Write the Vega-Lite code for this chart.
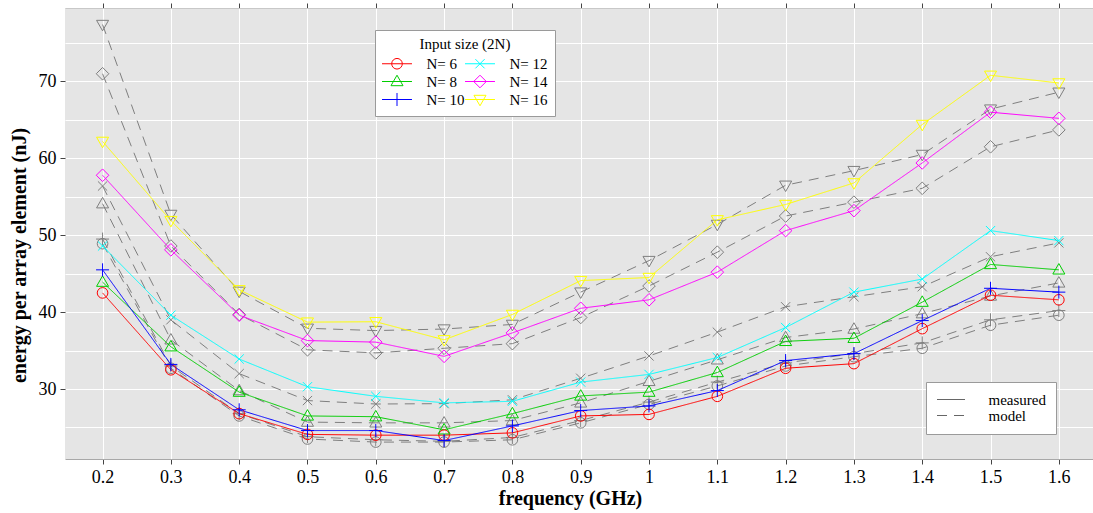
{
  "$schema": "https://vega.github.io/schema/vega-lite/v6.json",
  "width": 1028,
  "height": 451,
  "autosize": {"type": "none"},
  "padding": {"left": 65, "top": 8, "right": 0, "bottom": 54},
  "background": "white",
  "config": {
    "view": {"fill": "#E5E5E5", "stroke": null},
    "font": "Liberation Serif",
    "axis": {"labelFont": "Liberation Serif", "titleFont": "Liberation Serif", "labelColor": "#000", "titleColor": "#000"},
    "legend": {"labelFont": "Liberation Serif", "titleFont": "Liberation Serif", "labelColor": "#000", "titleColor": "#000"}
  },
  "data": {"values": [
    {"f":0.2,"N":"N= 6","t":"measured","e":42.5},{"f":0.3,"N":"N= 6","t":"measured","e":32.5},{"f":0.4,"N":"N= 6","t":"measured","e":26.8},{"f":0.5,"N":"N= 6","t":"measured","e":24.1},{"f":0.6,"N":"N= 6","t":"measured","e":24.0},{"f":0.7,"N":"N= 6","t":"measured","e":24.0},{"f":0.8,"N":"N= 6","t":"measured","e":24.3},{"f":0.9,"N":"N= 6","t":"measured","e":26.5},{"f":1.0,"N":"N= 6","t":"measured","e":26.7},{"f":1.1,"N":"N= 6","t":"measured","e":29.05},{"f":1.2,"N":"N= 6","t":"measured","e":32.7},{"f":1.3,"N":"N= 6","t":"measured","e":33.3},{"f":1.4,"N":"N= 6","t":"measured","e":37.85},{"f":1.5,"N":"N= 6","t":"measured","e":42.2},{"f":1.6,"N":"N= 6","t":"measured","e":41.6},
    {"f":0.2,"N":"N= 8","t":"measured","e":43.9},{"f":0.3,"N":"N= 8","t":"measured","e":35.5},{"f":0.4,"N":"N= 8","t":"measured","e":29.6},{"f":0.5,"N":"N= 8","t":"measured","e":26.5},{"f":0.6,"N":"N= 8","t":"measured","e":26.4},{"f":0.7,"N":"N= 8","t":"measured","e":24.7},{"f":0.8,"N":"N= 8","t":"measured","e":26.8},{"f":0.9,"N":"N= 8","t":"measured","e":29.1},{"f":1.0,"N":"N= 8","t":"measured","e":29.6},{"f":1.1,"N":"N= 8","t":"measured","e":32.15},{"f":1.2,"N":"N= 8","t":"measured","e":36.2},{"f":1.3,"N":"N= 8","t":"measured","e":36.6},{"f":1.4,"N":"N= 8","t":"measured","e":41.3},{"f":1.5,"N":"N= 8","t":"measured","e":46.2},{"f":1.6,"N":"N= 8","t":"measured","e":45.5},
    {"f":0.2,"N":"N= 10","t":"measured","e":45.5},{"f":0.3,"N":"N= 10","t":"measured","e":33.2},{"f":0.4,"N":"N= 10","t":"measured","e":27.3},{"f":0.5,"N":"N= 10","t":"measured","e":24.6},{"f":0.6,"N":"N= 10","t":"measured","e":24.6},{"f":0.7,"N":"N= 10","t":"measured","e":23.3},{"f":0.8,"N":"N= 10","t":"measured","e":25.2},{"f":0.9,"N":"N= 10","t":"measured","e":27.2},{"f":1.0,"N":"N= 10","t":"measured","e":27.8},{"f":1.1,"N":"N= 10","t":"measured","e":29.8},{"f":1.2,"N":"N= 10","t":"measured","e":33.7},{"f":1.3,"N":"N= 10","t":"measured","e":34.6},{"f":1.4,"N":"N= 10","t":"measured","e":38.9},{"f":1.5,"N":"N= 10","t":"measured","e":43.1},{"f":1.6,"N":"N= 10","t":"measured","e":42.6},
    {"f":0.2,"N":"N= 12","t":"measured","e":48.6},{"f":0.3,"N":"N= 12","t":"measured","e":39.6},{"f":0.4,"N":"N= 12","t":"measured","e":33.9},{"f":0.5,"N":"N= 12","t":"measured","e":30.3},{"f":0.6,"N":"N= 12","t":"measured","e":29.05},{"f":0.7,"N":"N= 12","t":"measured","e":28.2},{"f":0.8,"N":"N= 12","t":"measured","e":28.4},{"f":0.9,"N":"N= 12","t":"measured","e":30.9},{"f":1.0,"N":"N= 12","t":"measured","e":31.9},{"f":1.1,"N":"N= 12","t":"measured","e":34.1},{"f":1.2,"N":"N= 12","t":"measured","e":38.0},{"f":1.3,"N":"N= 12","t":"measured","e":42.6},{"f":1.4,"N":"N= 12","t":"measured","e":44.3},{"f":1.5,"N":"N= 12","t":"measured","e":50.6},{"f":1.6,"N":"N= 12","t":"measured","e":49.3},
    {"f":0.2,"N":"N= 14","t":"measured","e":57.8},{"f":0.3,"N":"N= 14","t":"measured","e":48.1},{"f":0.4,"N":"N= 14","t":"measured","e":39.6},{"f":0.5,"N":"N= 14","t":"measured","e":36.3},{"f":0.6,"N":"N= 14","t":"measured","e":36.1},{"f":0.7,"N":"N= 14","t":"measured","e":34.25},{"f":0.8,"N":"N= 14","t":"measured","e":37.3},{"f":0.9,"N":"N= 14","t":"measured","e":40.5},{"f":1.0,"N":"N= 14","t":"measured","e":41.6},{"f":1.1,"N":"N= 14","t":"measured","e":45.2},{"f":1.2,"N":"N= 14","t":"measured","e":50.6},{"f":1.3,"N":"N= 14","t":"measured","e":53.2},{"f":1.4,"N":"N= 14","t":"measured","e":59.4},{"f":1.5,"N":"N= 14","t":"measured","e":66.0},{"f":1.6,"N":"N= 14","t":"measured","e":65.2},
    {"f":0.2,"N":"N= 16","t":"measured","e":62.2},{"f":0.3,"N":"N= 16","t":"measured","e":51.9},{"f":0.4,"N":"N= 16","t":"measured","e":42.9},{"f":0.5,"N":"N= 16","t":"measured","e":38.7},{"f":0.6,"N":"N= 16","t":"measured","e":38.75},{"f":0.7,"N":"N= 16","t":"measured","e":36.4},{"f":0.8,"N":"N= 16","t":"measured","e":39.7},{"f":0.9,"N":"N= 16","t":"measured","e":44.1},{"f":1.0,"N":"N= 16","t":"measured","e":44.5},{"f":1.1,"N":"N= 16","t":"measured","e":52.0},{"f":1.2,"N":"N= 16","t":"measured","e":54.0},{"f":1.3,"N":"N= 16","t":"measured","e":56.8},{"f":1.4,"N":"N= 16","t":"measured","e":64.4},{"f":1.5,"N":"N= 16","t":"measured","e":70.8},{"f":1.6,"N":"N= 16","t":"measured","e":69.8},
    {"f":0.2,"N":"N= 6","t":"model","e":48.9},{"f":0.3,"N":"N= 6","t":"model","e":32.7},{"f":0.4,"N":"N= 6","t":"model","e":26.5},{"f":0.5,"N":"N= 6","t":"model","e":23.5},{"f":0.6,"N":"N= 6","t":"model","e":23.1},{"f":0.7,"N":"N= 6","t":"model","e":23.1},{"f":0.8,"N":"N= 6","t":"model","e":23.4},{"f":0.9,"N":"N= 6","t":"model","e":25.6},{"f":1.0,"N":"N= 6","t":"model","e":28.0},{"f":1.1,"N":"N= 6","t":"model","e":30.4},{"f":1.2,"N":"N= 6","t":"model","e":33.0},{"f":1.3,"N":"N= 6","t":"model","e":34.2},{"f":1.4,"N":"N= 6","t":"model","e":35.3},{"f":1.5,"N":"N= 6","t":"model","e":38.3},{"f":1.6,"N":"N= 6","t":"model","e":39.6},
    {"f":0.2,"N":"N= 8","t":"model","e":54.1},{"f":0.3,"N":"N= 8","t":"model","e":36.4},{"f":0.4,"N":"N= 8","t":"model","e":29.8},{"f":0.5,"N":"N= 8","t":"model","e":25.7},{"f":0.6,"N":"N= 8","t":"model","e":25.6},{"f":0.7,"N":"N= 8","t":"model","e":25.6},{"f":0.8,"N":"N= 8","t":"model","e":25.9},{"f":0.9,"N":"N= 8","t":"model","e":28.2},{"f":1.0,"N":"N= 8","t":"model","e":31.0},{"f":1.1,"N":"N= 8","t":"model","e":33.8},{"f":1.2,"N":"N= 8","t":"model","e":36.7},{"f":1.3,"N":"N= 8","t":"model","e":37.8},{"f":1.4,"N":"N= 8","t":"model","e":39.8},{"f":1.5,"N":"N= 8","t":"model","e":42.1},{"f":1.6,"N":"N= 8","t":"model","e":43.8},
    {"f":0.2,"N":"N= 10","t":"model","e":49.5},{"f":0.3,"N":"N= 10","t":"model","e":33.0},{"f":0.4,"N":"N= 10","t":"model","e":26.8},{"f":0.5,"N":"N= 10","t":"model","e":23.8},{"f":0.6,"N":"N= 10","t":"model","e":23.4},{"f":0.7,"N":"N= 10","t":"model","e":23.2},{"f":0.8,"N":"N= 10","t":"model","e":23.7},{"f":0.9,"N":"N= 10","t":"model","e":25.9},{"f":1.0,"N":"N= 10","t":"model","e":28.3},{"f":1.1,"N":"N= 10","t":"model","e":30.9},{"f":1.2,"N":"N= 10","t":"model","e":33.4},{"f":1.3,"N":"N= 10","t":"model","e":34.6},{"f":1.4,"N":"N= 10","t":"model","e":36.0},{"f":1.5,"N":"N= 10","t":"model","e":39.0},{"f":1.6,"N":"N= 10","t":"model","e":40.2},
    {"f":0.2,"N":"N= 12","t":"model","e":56.4},{"f":0.3,"N":"N= 12","t":"model","e":39.0},{"f":0.4,"N":"N= 12","t":"model","e":32.0},{"f":0.5,"N":"N= 12","t":"model","e":28.5},{"f":0.6,"N":"N= 12","t":"model","e":28.05},{"f":0.7,"N":"N= 12","t":"model","e":28.1},{"f":0.8,"N":"N= 12","t":"model","e":28.6},{"f":0.9,"N":"N= 12","t":"model","e":31.4},{"f":1.0,"N":"N= 12","t":"model","e":34.3},{"f":1.1,"N":"N= 12","t":"model","e":37.4},{"f":1.2,"N":"N= 12","t":"model","e":40.7},{"f":1.3,"N":"N= 12","t":"model","e":42.0},{"f":1.4,"N":"N= 12","t":"model","e":43.3},{"f":1.5,"N":"N= 12","t":"model","e":47.2},{"f":1.6,"N":"N= 12","t":"model","e":49.0},
    {"f":0.2,"N":"N= 14","t":"model","e":71.0},{"f":0.3,"N":"N= 14","t":"model","e":48.6},{"f":0.4,"N":"N= 14","t":"model","e":39.7},{"f":0.5,"N":"N= 14","t":"model","e":35.1},{"f":0.6,"N":"N= 14","t":"model","e":34.7},{"f":0.7,"N":"N= 14","t":"model","e":35.3},{"f":0.8,"N":"N= 14","t":"model","e":35.9},{"f":0.9,"N":"N= 14","t":"model","e":39.3},{"f":1.0,"N":"N= 14","t":"model","e":43.4},{"f":1.1,"N":"N= 14","t":"model","e":47.8},{"f":1.2,"N":"N= 14","t":"model","e":52.5},{"f":1.3,"N":"N= 14","t":"model","e":54.3},{"f":1.4,"N":"N= 14","t":"model","e":56.1},{"f":1.5,"N":"N= 14","t":"model","e":61.5},{"f":1.6,"N":"N= 14","t":"model","e":63.7},
    {"f":0.2,"N":"N= 16","t":"model","e":77.4},{"f":0.3,"N":"N= 16","t":"model","e":52.7},{"f":0.4,"N":"N= 16","t":"model","e":42.7},{"f":0.5,"N":"N= 16","t":"model","e":37.9},{"f":0.6,"N":"N= 16","t":"model","e":37.6},{"f":0.7,"N":"N= 16","t":"model","e":37.8},{"f":0.8,"N":"N= 16","t":"model","e":38.4},{"f":0.9,"N":"N= 16","t":"model","e":42.6},{"f":1.0,"N":"N= 16","t":"model","e":46.7},{"f":1.1,"N":"N= 16","t":"model","e":51.4},{"f":1.2,"N":"N= 16","t":"model","e":56.5},{"f":1.3,"N":"N= 16","t":"model","e":58.4},{"f":1.4,"N":"N= 16","t":"model","e":60.5},{"f":1.5,"N":"N= 16","t":"model","e":66.4},{"f":1.6,"N":"N= 16","t":"model","e":68.6}
  ]},
  "encoding": {
    "y": {
      "field": "e", "type": "quantitative",
      "scale": {"domain": [20.9, 79.55], "nice": false, "zero": false},
      "axis": {
        "title": "energy per array element (nJ)",
        "titleFontSize": 20, "titleFontWeight": "bold", "titlePadding": 9, "titleY": 247,
        "values": [25, 30, 35, 40, 45, 50, 55, 60, 65, 70, 75],
        "labelExpr": "datum.value % 10 === 0 ? datum.label : ''",
        "labelFontSize": 18, "labelPadding": 4,
        "grid": true, "gridColor": "#FFFFFF", "gridWidth": 1, "gridOpacity": 1,
        "domain": false,
        "ticks": true, "tickSize": 5, "tickColor": "#444",
        "tickOpacity": {"condition": {"test": "datum.value % 10 === 0", "value": 1}, "value": 0}
      }
    }
  },
  "layer": [
    {
      "transform": [{"filter": "datum.t === 'model'"}],
      "mark": {"type": "line", "stroke": "#7F7F7F", "strokeWidth": 1},
      "encoding": {
        "x": {
          "field": "f", "type": "quantitative",
          "scale": {"domain": [0.145, 1.65], "nice": false, "zero": false},
          "axis": {
            "orient": "bottom",
            "title": "frequency (GHz)", "titleFontSize": 20, "titleFontWeight": "bold", "titlePadding": 2, "titleX": 505,
            "values": [0.2, 0.3, 0.4, 0.5, 0.6, 0.7, 0.8, 0.9, 1.0, 1.1, 1.2, 1.3, 1.4, 1.5, 1.6],
            "format": ".2~f",
            "labelFontSize": 18, "labelPadding": 4,
            "grid": true, "gridColor": "#FFFFFF", "gridWidth": 1, "gridOpacity": 1,
            "domain": true, "domainColor": "#A8A8A8", "domainWidth": 1,
            "ticks": true, "tickSize": 5, "tickColor": "#444"
          }
        },
        "detail": {"field": "N"},
        "strokeDash": {
          "field": "t", "type": "nominal",
          "scale": {"domain": ["measured", "model"], "range": [[1, 0], [10, 7]]},
          "legend": {
            "title": null, "orient": "none", "legendX": 861, "legendY": 374,
            "fillColor": "#FFFFFF", "strokeColor": "#9A9A9A", "padding": 10,
            "symbolType": "M-2,0H2", "symbolSize": 196, "symbolOffset": 7.5,
            "symbolStrokeColor": "#666666", "symbolStrokeWidth": 1,
            "labelFontSize": 15, "labelOffset": 30, "rowPadding": -1,
            "encode": {"symbols": {"update": {"stroke": {"value": "#666666"}, "strokeWidth": {"value": 1}, "fill": {"value": "transparent"}}}}
          }
        }
      }
    },
    {
      "transform": [{"filter": "datum.t === 'model'"}],
      "mark": {"type": "point", "filled": false, "stroke": "#7F7F7F", "strokeWidth": 1, "size": 196, "opacity": 1},
      "encoding": {
        "x": {
          "field": "f", "type": "quantitative",
          "scale": {"domain": [0.145, 1.65], "nice": false, "zero": false},
          "axis": {
            "orient": "top", "title": null, "labels": false, "grid": false,
            "values": [0.2, 0.3, 0.4, 0.5, 0.6, 0.7, 0.8, 0.9, 1.0, 1.1, 1.2, 1.3, 1.4, 1.5, 1.6],
            "domain": true, "domainColor": "#C8C8C8", "domainWidth": 1,
            "ticks": true, "tickSize": 5, "tickColor": "#444"
          }
        },
        "shape": {
          "field": "N", "type": "nominal",
          "scale": {
            "domain": ["N= 16", "N= 14", "N= 12", "N= 10", "N= 8", "N= 6"],
            "range": [
              "M-2.14,-1M2.14,1M0,0.9L0.86,-0.6L-0.86,-0.6Z",
              "M-2.14,-1M2.14,1M0,-0.9L0.9,0L0,0.9L-0.9,0Z",
              "M-2.14,-1M2.14,1M-0.66,-0.66L0.66,0.66M-0.66,0.66L0.66,-0.66",
              "M-2.14,-1M2.14,1M-0.93,0H0.93M0,-0.93V0.93",
              "M-2.14,-1M2.14,1M0,-0.9L0.86,0.6L-0.86,0.6Z",
              "M-2.14,-1M2.14,1M-0.76,0A0.76,0.76 0 1,0 0.76,0A0.76,0.76 0 1,0 -0.76,0"
            ]
          },
          "legend": {
            "title": "Input size (2N)", "values": ["N= 6", "N= 8", "N= 10", "N= 12", "N= 14", "N= 16"],
            "orient": "none", "legendX": 310, "legendY": 22, "zindex": 2,
            "columns": 2, "fillColor": "transparent", "strokeColor": "transparent", "padding": 7,
            "titleAnchor": "middle", "titleFontWeight": "normal", "titleFontSize": 15, "titlePadding": 4, "titleOpacity": 0,
            "labelFontSize": 15, "labelOffset": 22, "labelOpacity": 0, "columnPadding": -3, "rowPadding": -1,
            "symbolSize": 196, "symbolOffset": 7.5, "symbolStrokeWidth": 1
          }
        }
      }
    },
    {
      "transform": [{"filter": "datum.t === 'measured'"}],
      "mark": {"type": "line", "strokeWidth": 1},
      "encoding": {
        "x": {"field": "f", "type": "quantitative", "scale": {"domain": [0.145, 1.65], "nice": false, "zero": false}, "axis": null},
        "strokeDash": {"field": "t", "type": "nominal", "scale": {"domain": ["measured", "model"], "range": [[1, 0], [10, 7]]}},
        "stroke": {
          "field": "N", "type": "nominal",
          "scale": {
            "domain": ["N= 6", "N= 8", "N= 10", "N= 12", "N= 14", "N= 16"],
            "range": ["#FF0000", "#00CD00", "#0000FF", "#00FFFF", "#FF00FF", "#FFFF00"]
          },
          "legend": {
            "title": "Input size (2N)", "values": ["N= 6", "N= 8", "N= 10", "N= 12", "N= 14", "N= 16"],
            "orient": "none", "legendX": 310, "legendY": 22, "zindex": 1,
            "columns": 2, "fillColor": "#FFFFFF", "strokeColor": "#9A9A9A", "padding": 7,
            "titleAnchor": "middle", "titleFontWeight": "normal", "titleFontSize": 15, "titlePadding": 4,
            "labelFontSize": 15, "labelOffset": 22, "columnPadding": -3, "rowPadding": -1,
            "symbolType": "M-2.14,-1M2.14,1M-2.14,0H2.14", "symbolSize": 196, "symbolOffset": 7.5, "symbolStrokeWidth": 1
          }
        }
      }
    },
    {
      "transform": [{"filter": "datum.t === 'measured'"}],
      "mark": {"type": "point", "filled": false, "strokeWidth": 1, "size": 196, "opacity": 1},
      "encoding": {
        "x": {"field": "f", "type": "quantitative", "scale": {"domain": [0.145, 1.65], "nice": false, "zero": false}, "axis": null},
        "color": {
          "field": "N", "type": "nominal",
          "scale": {
            "domain": ["N= 16", "N= 14", "N= 12", "N= 10", "N= 8", "N= 6"],
            "range": ["#FFFF00", "#FF00FF", "#00FFFF", "#0000FF", "#00CD00", "#FF0000"]
          },
          "legend": {
            "title": "Input size (2N)", "values": ["N= 6", "N= 8", "N= 10", "N= 12", "N= 14", "N= 16"],
            "orient": "none", "legendX": 310, "legendY": 22, "zindex": 2,
            "columns": 2, "fillColor": "transparent", "strokeColor": "transparent", "padding": 7,
            "titleAnchor": "middle", "titleFontWeight": "normal", "titleFontSize": 15, "titlePadding": 4, "titleOpacity": 0,
            "labelFontSize": 15, "labelOffset": 22, "labelOpacity": 0, "columnPadding": -3, "rowPadding": -1,
            "symbolSize": 196, "symbolOffset": 7.5, "symbolStrokeWidth": 1
          }
        },
        "shape": {
          "field": "N", "type": "nominal",
          "scale": {
            "domain": ["N= 16", "N= 14", "N= 12", "N= 10", "N= 8", "N= 6"],
            "range": [
              "M-2.14,-1M2.14,1M0,0.9L0.86,-0.6L-0.86,-0.6Z",
              "M-2.14,-1M2.14,1M0,-0.9L0.9,0L0,0.9L-0.9,0Z",
              "M-2.14,-1M2.14,1M-0.66,-0.66L0.66,0.66M-0.66,0.66L0.66,-0.66",
              "M-2.14,-1M2.14,1M-0.93,0H0.93M0,-0.93V0.93",
              "M-2.14,-1M2.14,1M0,-0.9L0.86,0.6L-0.86,0.6Z",
              "M-2.14,-1M2.14,1M-0.76,0A0.76,0.76 0 1,0 0.76,0A0.76,0.76 0 1,0 -0.76,0"
            ]
          },
          "legend": {
            "title": "Input size (2N)", "values": ["N= 6", "N= 8", "N= 10", "N= 12", "N= 14", "N= 16"],
            "orient": "none", "legendX": 310, "legendY": 22, "zindex": 2,
            "columns": 2, "fillColor": "transparent", "strokeColor": "transparent", "padding": 7,
            "titleAnchor": "middle", "titleFontWeight": "normal", "titleFontSize": 15, "titlePadding": 4, "titleOpacity": 0,
            "labelFontSize": 15, "labelOffset": 22, "labelOpacity": 0, "columnPadding": -3, "rowPadding": -1,
            "symbolSize": 196, "symbolOffset": 7.5, "symbolStrokeWidth": 1
          }
        }
      }
    }
  ],
  "resolve": {"axis": {"x": "independent"}}
}
